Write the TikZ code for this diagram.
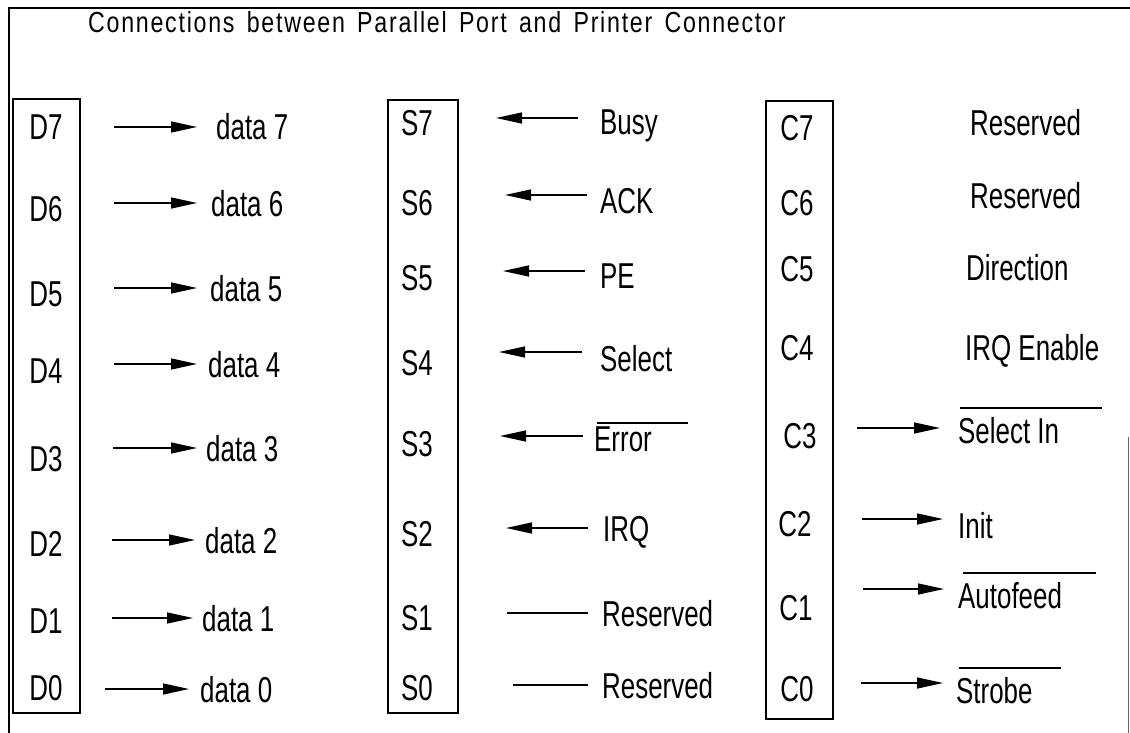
\documentclass[tikz,border=0pt]{standalone}
\usepackage{fontspec}
\setmainfont{Liberation Sans}[FakeStretch=0.72]
\newfontfamily\titlefont{Liberation Sans}[FakeStretch=0.8,WordSpace=1.5,LetterSpace=6]
\usetikzlibrary{arrows.meta}
\begin{document}
\begin{tikzpicture}[x=1pt,y=-1pt,
  lbl/.style={inner sep=0pt, font=\fontsize{36}{40}\selectfont, anchor=base},
  sig/.style={anchor=base west, inner sep=0pt, font=\fontsize{36}{40}\selectfont},
  reg/.style={draw, line width=1.6pt, inner sep=0pt},
  wire/.style={line width=1.3pt},
  arr/.style={wire, -{Triangle[length=26pt,width=11pt]}},
  bar/.style={line width=1.2pt},
  frame/.style={line width=2.6pt}
]
\useasboundingbox (0,0) rectangle (1130,733);
% frame
\coordinate (fbl) at (9,733);
\coordinate (ftl) at (9,8);
\coordinate (ftr) at (1130,8);
\coordinate (frt) at (1128,437);
\coordinate (frb) at (1128,733);
\draw[frame] (fbl) -- (ftl) -- (ftr);
\draw[line width=1pt, black!60] (frt) -- (frb);
% title
\node[anchor=base west, inner sep=0pt, font=\titlefont\fontsize{29}{32}\selectfont] (title) at (88,33)
  {Connections between Parallel Port and Printer Connector};
% registers
\node[reg, minimum width=67pt, minimum height=614pt] (dreg) at (46.5,406) {};
\node[reg, minimum width=70pt, minimum height=613pt] (sreg) at (423,406.5) {};
\node[reg, minimum width=67pt, minimum height=618pt] (creg) at (799.5,410) {};
% D column
\node[lbl] (d7) at (46,140) {D7};
\node[lbl] (d6) at (46,221) {D6};
\node[lbl] (d5) at (46,306) {D5};
\node[lbl] (d4) at (46,383) {D4};
\node[lbl] (d3) at (46,471) {D3};
\node[lbl] (d2) at (46,556) {D2};
\node[lbl] (d1) at (46,633) {D1};
\node[lbl] (d0) at (46,700) {D0};
\node[sig] (data7) at (216,140) {data 7};
\node[sig] (data6) at (211,216) {data 6};
\node[sig] (data5) at (210,301) {data 5};
\node[sig] (data4) at (208,377) {data 4};
\node[sig] (data3) at (206,461) {data 3};
\node[sig] (data2) at (205,553) {data 2};
\node[sig] (data1) at (202,631) {data 1};
\node[sig] (data0) at (200,702) {data 0};
\coordinate (da7) at (114,127); \coordinate (db7) at (197,127);
\coordinate (da6) at (114,203); \coordinate (db6) at (197,203);
\coordinate (da5) at (114,288); \coordinate (db5) at (197,288);
\coordinate (da4) at (114,364); \coordinate (db4) at (197,364);
\coordinate (da3) at (113,448); \coordinate (db3) at (197,448);
\coordinate (da2) at (112,540); \coordinate (db2) at (195,540);
\coordinate (da1) at (112,618); \coordinate (db1) at (193,618);
\coordinate (da0) at (105,689); \coordinate (db0) at (189,689);
\foreach \i in {0,...,7} {\draw[arr] (da\i) -- (db\i);}
% S column
\node[lbl] (s7) at (417,136) {S7};
\node[lbl] (s6) at (417,215) {S6};
\node[lbl] (s5) at (417,290) {S5};
\node[lbl] (s4) at (417,375) {S4};
\node[lbl] (s3) at (417,456) {S3};
\node[lbl] (s2) at (417,546) {S2};
\node[lbl] (s1) at (417,630) {S1};
\node[lbl] (s0) at (417,700) {S0};
\node[sig] (busy) at (600,135) {Busy};
\node[sig] (ack) at (600,213) {ACK};
\node[sig] (pe) at (600,288) {PE};
\node[sig] (select) at (600,371) {Select};
\node[sig] (error) at (594,451) {Error};
\node[sig] (irq) at (603,541) {IRQ};
\node[sig] (sres1) at (602,626) {Reserved};
\node[sig] (sres0) at (602,698) {Reserved};
\coordinate (sa7) at (578,118); \coordinate (sb7) at (496,118);
\coordinate (sa6) at (587,195); \coordinate (sb6) at (505,195);
\coordinate (sa5) at (585,271); \coordinate (sb5) at (503,271);
\coordinate (sa4) at (582,352); \coordinate (sb4) at (499,352);
\coordinate (sa3) at (583,436); \coordinate (sb3) at (500,436);
\coordinate (sa2) at (588,528); \coordinate (sb2) at (506,528);
\coordinate (sa1) at (588,613); \coordinate (sb1) at (507,613);
\coordinate (sa0) at (588,685); \coordinate (sb0) at (513,685);
\foreach \i in {2,...,7} {\draw[arr] (sa\i) -- (sb\i);}
\draw[wire] (sa1) -- (sb1);
\draw[wire] (sa0) -- (sb0);
\coordinate (eb1) at (597,423); \coordinate (eb2) at (688,423);
\draw[bar] (eb1) -- (eb2);
% C column
\node[lbl] (c7) at (797,141) {C7};
\node[lbl] (c6) at (797,215) {C6};
\node[lbl] (c5) at (797,281) {C5};
\node[lbl] (c4) at (797,360) {C4};
\node[lbl] (c3) at (800,448) {C3};
\node[lbl] (c2) at (795,536) {C2};
\node[lbl] (c1) at (796,620) {C1};
\node[lbl] (c0) at (797,701) {C0};
\node[sig] (cres7) at (970,136) {Reserved};
\node[sig] (cres6) at (970,208) {Reserved};
\node[sig] (dir) at (966,280) {Direction};
\node[sig] (irqen) at (965,360) {IRQ Enable};
\node[sig] (selin) at (958,443) {Select In};
\node[sig] (init) at (958,538) {Init};
\node[sig] (autof) at (958,608) {Autofeed};
\node[sig] (strobe) at (956,703) {Strobe};
\coordinate (ca3) at (857,428); \coordinate (cb3) at (940,428);
\coordinate (ca2) at (862,519); \coordinate (cb2) at (943,519);
\coordinate (ca1) at (863,589); \coordinate (cb1) at (944,589);
\coordinate (ca0) at (861,683); \coordinate (cb0) at (943,683);
\foreach \i in {0,...,3} {\draw[arr] (ca\i) -- (cb\i);}
\coordinate (sib1) at (960,408); \coordinate (sib2) at (1102,408);
\coordinate (afb1) at (963,573); \coordinate (afb2) at (1096,573);
\coordinate (stb1) at (959,668); \coordinate (stb2) at (1061,668);
\draw[bar] (sib1) -- (sib2);
\draw[bar] (afb1) -- (afb2);
\draw[bar] (stb1) -- (stb2);
\end{tikzpicture}
\end{document}
